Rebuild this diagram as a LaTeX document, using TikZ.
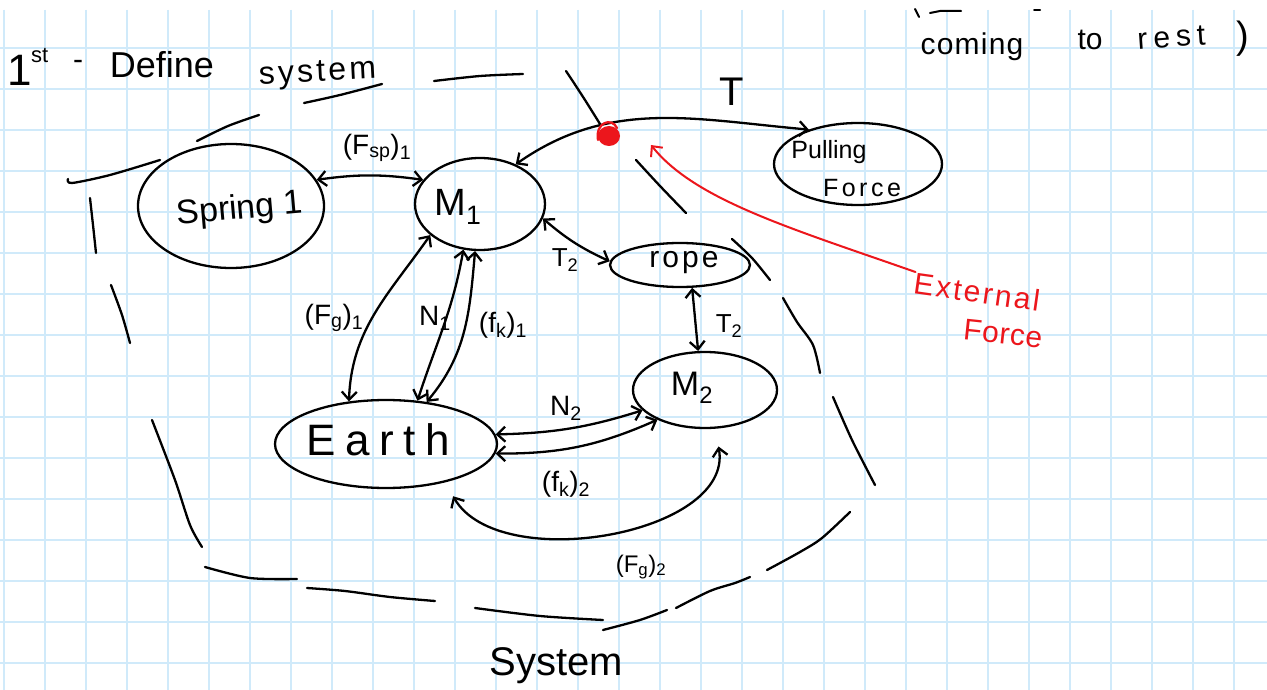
\documentclass[tikz,border=0pt]{standalone}
\usepackage{fontspec}
\setmainfont{Liberation Sans}
\newfontfamily\hand{Liberation Sans}
\newcommand\hs[1]{\hand\fontsize{#1}{#1}\selectfont}
\newcommand\ls[1]{\addfontfeature{LetterSpace=#1}}
\usetikzlibrary{shapes.geometric,arrows.meta}
\definecolor{gridblue}{RGB}{208,234,250}
\definecolor{inkred}{RGB}{236,22,28}

\begin{document}
\begin{tikzpicture}[x=1pt,y=1pt,
  ink/.style={line width=2.3pt, line cap=round, line join=round},
  pen/.style={ink, draw=black},
  bubble/.style={ellipse, draw=black, ink, inner sep=0pt},
  txt/.style={inner sep=0pt},
  >={Straight Barb[length=8pt,width=15pt]},
  fw/.style={ink, <->},
]
% paper
\fill[white] (0,0) rectangle (1267,-690);
\useasboundingbox (0,0) rectangle (1267,-690);
\foreach \i in {0,...,30} \draw[gridblue, line width=1.8pt] ({4+41*\i},-10) -- ({4+41*\i},-690);
\foreach \k in {0,...,15} \draw[gridblue, line width=1.8pt] (0,{-48-41*\k}) -- (1267,{-48-41*\k});

% cut-off strokes of the line above
\draw[pen, line width=2pt] (915,-9) -- (919,-17);
\draw[pen, line width=2pt] (930,-13) -- (940,-11) -- (961,-11);
\draw[pen, line width=2pt] (1034,-10) -- (1040,-10);

% heading
\node[txt, font=\hs{44}, anchor=base west] (one) at (7,-86) {1};
\node[txt, font=\hs{22}, anchor=base west] (st) at (31,-63) {st};
\node[txt, font=\hs{30}, anchor=base] (dash) at (78,-70) {-};
\node[txt, font=\hs{36}, anchor=base] (define) at (162,-78) {Define};
\node[txt, font={\hs{32}\ls{10}}, anchor=base, rotate=3] (systemword) at (318,-81) {system};

\node[txt, font={\hs{30}\ls{4}}, anchor=base] (coming) at (972,-55) {coming};
\node[txt, font=\hs{30}, anchor=base] (to) at (1090,-50) {to};
\node[txt, font={\hs{30}\ls{20}}, anchor=base, rotate=4] (rest) at (1172,-47) {rest};
\node[txt, font=\hs{38}, anchor=base] (paren) at (1243,-49) {)};

% objects
\node[bubble, minimum width=186pt, minimum height=124pt] (spring) at (231,-206) {};
\node[bubble, minimum width=130pt, minimum height=92pt] (m1) at (480,-204) {};
\node[bubble, minimum width=168pt, minimum height=82pt] (pf) at (858,-164) {};
\node[bubble, minimum width=140pt, minimum height=44pt] (rope) at (680,-265) {};
\node[bubble, minimum width=144pt, minimum height=76pt] (m2) at (705,-390) {};
\node[bubble, minimum width=222pt, minimum height=88pt] (earth) at (386,-444) {};

\node[txt, font=\hs{34}, rotate=5] (springtxt) at (240,-210) {Spring 1};
\node[txt, font=\hs{38}] (m1txt) at (458,-207) {M\textsubscript{1}};
\node[txt, font=\hs{25}] (pulltxt) at (829,-152) {Pulling};
\node[txt, font={\hs{25}\ls{14}}] (forcetxt) at (862,-188) {Force};
\node[txt, font={\hs{30}\ls{10}}] (ropetxt) at (684,-263) {rope};
\node[txt, font=\hs{34}] (m2txt) at (692,-388) {M\textsubscript{2}};
\node[txt, font={\hs{44}\ls{22}}] (earthtxt) at (378,-440) {Earth};

% interactions
\draw[fw] (spring.17) to[bend left=8] (m1.157);
\draw[fw] (m1.48) to[out=35,in=175] (pf.145);
\draw[fw] (m1.-13) to[bend right=8] (rope.177);
\draw[fw] (rope.-62) -- (m2.100);
\draw[fw] (earth.131) to[out=88,in=235] (m1.212);
\draw[fw] (earth.54) to[out=72,in=-100] (m1.250);
\draw[fw] (earth.46) to[out=50,in=-95] (m1.264);
\draw[fw] (earth.5) to[bend right=8] (m2.198);
\draw[fw] (earth.-5) to[bend right=12] (m2.212);
\draw[fw, shorten <=16pt, shorten >=18pt] (earth.-33) to[out=-60,in=-80] (m2.-75);

\node[txt, font=\hs{28}] (lfsp) at (377,-148) {(F\textsubscript{sp})\textsubscript{1}};
\node[txt, font=\hs{40}] (lt) at (732,-92) {T};
\node[txt, font=\hs{26}] (lt2a) at (565,-260) {T\textsubscript{2}};
\node[txt, font=\hs{26}] (lt2b) at (729,-326) {T\textsubscript{2}};
\node[txt, font=\hs{28}] (lfg1) at (334,-318) {(F\textsubscript{g})\textsubscript{1}};
\node[txt, font=\hs{28}] (ln1) at (435,-318) {N\textsubscript{1}};
\node[txt, font=\hs{28}] (lfk1) at (503,-325) {(f\textsubscript{k})\textsubscript{1}};
\node[txt, font=\hs{28}] (ln2) at (566,-408) {N\textsubscript{2}};
\node[txt, font=\hs{28}] (lfk2) at (566,-484) {(f\textsubscript{k})\textsubscript{2}};
\node[txt, font=\hs{24}] (lfg2) at (641,-567) {(F\textsubscript{g})\textsubscript{2}};

% system boundary, drawn as loose dashes
\draw[pen] plot[smooth] coordinates {(68,-179) (72,-183) (110,-175) (160,-160)};
\draw[pen] plot[smooth] coordinates {(197,-141) (228,-126) (259,-115)};
\draw[pen] plot[smooth] coordinates {(304,-103) (340,-95) (382,-84)};
\draw[pen] plot[smooth] coordinates {(434,-81) (480,-76) (523,-74)};
\draw[pen] plot[smooth] coordinates {(566,-71) (572,-80) (585,-100) (600,-124)};
\draw[pen] plot[smooth] coordinates {(636,-160) (660,-186) (686,-213)};
\draw[pen] plot[smooth] coordinates {(732,-239) (752,-258) (770,-280)};
\draw[pen] plot[smooth] coordinates {(783,-298) (797,-322) (813,-345) (820,-373)};
\draw[pen] plot[smooth] coordinates {(833,-397) (852,-440) (875,-485)};
\draw[pen] plot[smooth] coordinates {(850,-512) (822,-538) (800,-552) (767,-570)};
\draw[pen] plot[smooth] coordinates {(750,-577) (735,-583) (710,-591) (676,-608)};
\draw[pen] plot[smooth] coordinates {(667,-610) (640,-620) (603,-630)};
\draw[pen] plot[smooth] coordinates {(475,-608) (540,-616) (603,-620)};
\draw[pen] plot[smooth] coordinates {(307,-588) (345,-591) (390,-597) (435,-601)};
\draw[pen] plot[smooth] coordinates {(205,-567) (250,-578) (297,-579)};
\draw[pen] plot[smooth] coordinates {(152,-420) (175,-480) (190,-525) (202,-547)};
\draw[pen] plot[smooth] coordinates {(111,-285) (122,-315) (130,-343)};
\draw[pen] plot[smooth] coordinates {(90,-198) (93,-225) (96,-253)};

\node[txt, font=\hs{40}, anchor=base] (systemlabel) at (556,-675) {System};

% boundary crossing and external force
\fill[inkred] (609,-136) ellipse (11 and 10);
\draw[inkred, ink] (598,-140) .. controls (595,-122) and (612,-117) .. (617,-128);
\node[txt, font={\hs{30}\ls{8}}, text=inkred, rotate=-8] (extword) at (977,-292) {External};
\node[txt, font={\hs{30}\ls{2}}, text=inkred, rotate=-6] (extforce) at (1003,-334) {Force};
\coordinate (crossing) at (651,-145);
\draw[inkred, line width=2pt, line cap=round, ->] (extword.north west) .. controls (790,-228) and (695,-200) .. (crossing);
\end{tikzpicture}
\end{document}
